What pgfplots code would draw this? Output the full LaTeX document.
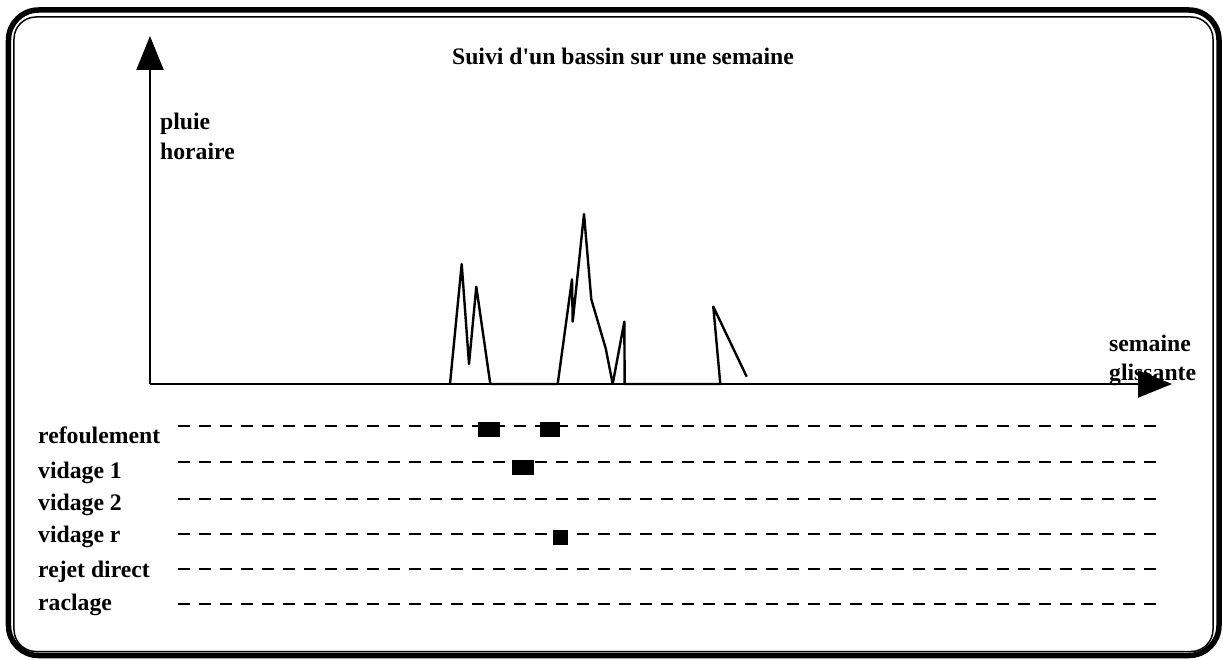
\documentclass[border=0pt]{standalone}
\usepackage{fontspec}
\setmainfont{Liberation Serif}[Ligatures=TeXOff]
\usepackage{pgfplots}
\pgfplotsset{compat=1.18}
\usetikzlibrary{arrows.meta}
\tikzset{lbl/.style={font=\bfseries\fontsize{23.7}{29}\selectfont, inner sep=0pt}}
\begin{document}
\begin{tikzpicture}
\begin{axis}[
  x=1pt, y=1pt,
  xmin=150, xmax=1172, ymin=275, ymax=623,
  enlargelimits=false,
  axis x line=bottom, axis y line=left,
  axis line style={line width=2.3pt, -{Triangle[length=34pt,width=27pt]}},
  xtick=\empty, ytick=\empty,
  clip=false,
]
% page frame
\path (axis cs:0,0) rectangle (axis cs:1223,659);
\draw[rounded corners=30pt, line width=5.5pt] (axis cs:8.5,3.5) rectangle (axis cs:1219,649);
\draw[rounded corners=22pt, line width=1.5pt] (axis cs:14,7.5) rectangle (axis cs:1213,642);

% hourly rain
\addplot[black, line width=2.4pt, line join=round, mark=none] coordinates {
 (450,275) (461.7,395) (469,295) (476.3,372.3) (490.3,275) (557.7,275)
 (572,379.7) (572.7,337.3) (584,445) (591.3,359.7) (605.7,310.7) (612.7,275)
 (624.3,337.3) (624.7,275) (720.3,275) (713.3,352.3) (746.7,282.3)
};

% event rows (dashed)
\foreach \yy in {233,197,160,125,90,55}{
  \edef\temp{\noexpand\addplot[black, line width=2.4pt, dash pattern=on 11.7pt off 9.3pt, mark=none] coordinates {(178,\yy) (1156,\yy)};}
  \temp
}

% events
\addplot[fill=black, draw=none] coordinates {(478,237) (500,237) (500,222) (478,222)} -- cycle;
\addplot[fill=black, draw=none] coordinates {(540,237) (560,237) (560,222) (540,222)} -- cycle;
\addplot[fill=black, draw=none] coordinates {(512,199) (534,199) (534,184) (512,184)} -- cycle;
\addplot[fill=black, draw=none] coordinates {(553,129) (568,129) (568,114) (553,114)} -- cycle;

% texts
\node[lbl, anchor=base] at (axis cs:623,594) {Suivi d'un bassin sur une semaine};
\node[lbl, anchor=base west] at (axis cs:160,530) {pluie};
\node[lbl, anchor=base west] at (axis cs:160,500) {horaire};
\node[lbl, anchor=base west] at (axis cs:1109,308) {semaine};
\node[lbl, anchor=base west] at (axis cs:1109,279) {glissante};
\node[lbl, anchor=base west] at (axis cs:38,216) {refoulement};
\node[lbl, anchor=base west] at (axis cs:38,181) {vidage 1};
\node[lbl, anchor=base west] at (axis cs:38,149) {vidage 2};
\node[lbl, anchor=base west] at (axis cs:38,117) {vidage r};
\node[lbl, anchor=base west] at (axis cs:38,82) {rejet direct};
\node[lbl, anchor=base west] at (axis cs:38,49) {raclage};
\end{axis}
\end{tikzpicture}
\end{document}
